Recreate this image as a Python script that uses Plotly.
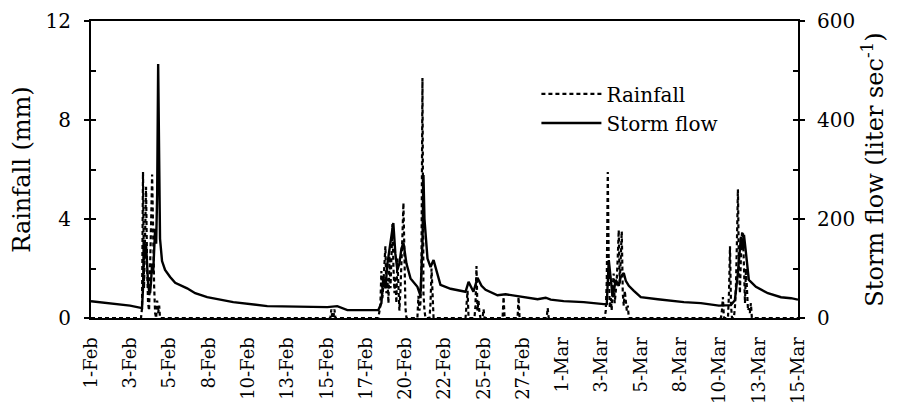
import plotly.graph_objects as go

# ---------------- data ----------------
# time axis: days since 1-Feb 00:00 (1-Feb .. 15-Mar)
tick_labels = ["1-Feb", "3-Feb", "5-Feb", "8-Feb", "10-Feb", "13-Feb", "15-Feb",
               "17-Feb", "20-Feb", "22-Feb", "25-Feb", "27-Feb", "1-Mar", "3-Mar",
               "5-Mar", "8-Mar", "10-Mar", "13-Mar", "15-Mar"]
period_days = 42

# Rainfall (mm)
rain_day = [0.00, 2.97, 3.03, 3.09, 3.15, 3.21, 3.27, 3.33, 3.39, 3.45, 3.51, 3.57, 3.63,
            3.69, 3.75, 3.81, 3.87, 3.93, 3.99, 4.05, 4.10,
            14.22, 14.28, 14.34, 14.40, 14.46, 14.52,
            17.07, 17.19, 17.25, 17.31, 17.37, 17.43, 17.49, 17.55, 17.61, 17.67, 17.73,
            17.79, 17.85, 17.91, 17.97, 18.03, 18.08, 18.14, 18.20, 18.26, 18.32, 18.38,
            18.44, 18.50, 18.56, 18.62, 18.68, 18.74,
            19.39, 19.45, 19.51, 19.57, 19.63, 19.69, 19.75, 19.81, 19.87,
            20.11, 20.17, 20.23, 20.29, 20.35,
            22.25, 22.37, 22.43, 22.78, 22.84, 22.90, 22.96, 23.02, 23.08, 23.14,
            23.26, 23.32, 23.38, 24.45, 24.51, 24.57, 25.34, 25.40, 25.46,
            27.07, 27.13, 27.19,
            30.52, 30.58, 30.64, 30.70, 30.76, 30.82, 30.88, 30.93, 30.99, 31.05, 31.11,
            31.17, 31.23, 31.29, 31.35, 31.41, 31.47, 31.53, 31.59, 31.65, 31.71, 31.77,
            31.83, 31.89, 31.95,
            37.42, 37.48, 37.54, 37.60, 37.84, 37.90, 37.96, 38.02, 38.08,
            38.19, 38.25, 38.31, 38.37, 38.43, 38.49, 38.55, 38.61, 38.67, 38.73, 38.79,
            38.85, 38.91, 38.97, 39.03, 39.08, 39.14, 39.20, 39.26, 42.00]
rain_mm = [0, 0, 0.4, 5.9, 1.2, 4.2, 5.3, 2.2, 0.6, 0.3, 1.6, 3.8, 5.8,
           2.8, 1.3, 0.2, 0.0, 0.7, 0.2, 0.5, 0,
           0, 0.35, 0, 0, 0.35, 0,
           0, 0.5, 1.9, 0.8, 1.4, 2.2, 2.9, 1.0, 1.6, 0.6, 2.5,
           1.2, 3.0, 3.8, 2.0, 1.0, 1.7, 0.6, 2.4, 0.8, 0.3, 1.1,
           2.0, 3.3, 4.65, 1.5, 0.4, 0,
           0, 0.9, 0.3, 0.6, 2.0, 9.7, 1.0, 0.3, 0,
           0, 0.6, 2.0, 0.5, 0,
           0, 1.1, 0, 0, 0.5, 2.1, 0.3, 0.7, 0.2, 0,
           0, 0.35, 0, 0, 0.85, 0, 0, 0.85, 0,
           0, 0.4, 0,
           0, 0.3, 1.5, 5.9, 2.0, 0.4, 0.8, 0.3, 1.2, 1.8, 0.6,
           1.0, 1.5, 2.4, 3.55, 1.4, 2.6, 3.5, 1.0, 0.5, 1.1, 0.6,
           0.3, 0.5, 0,
           0, 0.3, 0.85, 0, 0, 1.0, 2.9, 0.5, 0,
           0, 0.4, 1.2, 3.0, 5.2, 2.0, 1.0, 2.5, 3.4, 3.5, 1.5,
           0.6, 2.0, 0.8, 0.3, 0.4, 0.2, 0.6, 0, 0]

# Storm flow (liter/sec)
flow_day = [0.00, 1.13, 2.32, 3.03, 3.09, 3.15, 3.21, 3.27, 3.33, 3.39, 3.45, 3.51, 3.57,
            3.63, 3.69, 3.75, 3.81, 3.87, 3.93, 3.99, 4.04, 4.10, 4.22, 4.40, 4.70, 5.00,
            5.71, 6.19, 6.90, 8.45, 10.47, 13.21, 14.04, 14.63, 15.23, 17.07,
            17.25, 17.37, 17.49, 17.61, 17.73, 17.85, 17.96, 18.08, 18.20, 18.32, 18.44,
            18.56, 18.74, 18.98, 19.39, 19.57, 19.69, 19.75, 19.81, 19.99, 20.17, 20.35,
            20.52, 20.76, 21.36, 22.25, 22.43, 22.72, 22.96, 23.20, 23.44, 24.15, 24.63,
            25.34, 25.94, 26.53, 27.01, 27.31, 28.08, 29.27, 30.46, 30.64, 30.76, 30.88,
            30.99, 31.17, 31.35, 31.47, 31.65, 31.77, 31.95, 32.25, 32.66, 33.67, 35.22,
            36.23, 37.30, 38.01, 38.25, 38.43, 38.61, 38.73, 38.79, 38.91, 39.08, 39.50,
            40.21, 40.99, 41.58, 42.00]
flow_ls = [34, 30, 25, 20, 60, 158, 120, 150, 100, 70, 55, 50, 75,
           110, 90, 140, 180, 150, 250, 513, 300, 160, 115, 97, 83, 71,
           60, 50, 42, 32, 24, 22, 22, 24, 16, 16,
           30, 83, 60, 110, 140, 170, 192, 130, 97, 110, 140,
           152, 110, 80, 63, 45, 150, 289, 200, 120, 103, 117,
           95, 67, 59, 53, 73, 53, 81, 65, 57, 46, 48,
           44, 40, 38, 41, 37, 34, 32, 28, 28, 117, 70,
           42, 77, 65, 83, 91, 75, 65, 55, 42, 38, 32,
           30, 25, 26, 36, 91, 164, 140, 168, 131, 77, 63,
           50, 42, 40, 37]

rain_ticks = [0, 4, 8, 12]
flow_ticks = [0, 200, 400, 600]

# ---------------- figure ----------------
FONT = "DejaVu Serif"
SIZE = 20
fig = go.Figure()

fig.add_trace(go.Scatter(
    x=rain_day, y=rain_mm, name="Rainfall", mode="lines",
    line=dict(color="black", width=2.2, dash="4px,3px"), yaxis="y"))
fig.add_trace(go.Scatter(
    x=flow_day, y=flow_ls, name="Storm flow", mode="lines",
    line=dict(color="black", width=2.4), yaxis="y2"))
# helper traces for inside tick marks
fig.add_trace(go.Scatter(x=[0], y=[None], yaxis="y3", showlegend=False, hoverinfo="skip"))
fig.add_trace(go.Scatter(x=[0], y=[None], yaxis="y4", showlegend=False, hoverinfo="skip"))

n = len(tick_labels)
tick_pos = [i * period_days / (n - 1) for i in range(n)]

# the page body has an 8px default margin, so the figure is drawn 8px in/down
fig.update_layout(
    width=892, height=399,
    margin=dict(l=83, r=102, t=13, b=89),
    paper_bgcolor="white", plot_bgcolor="white",
    font=dict(family=FONT, size=SIZE, color="black"),
    showlegend=True,
    legend=dict(x=0.63, y=0.82, xanchor="left", yanchor="top",
                bgcolor="rgba(0,0,0,0)", itemwidth=60, tracegroupgap=0,
                font=dict(family=FONT, size=SIZE, color="black")),
    xaxis=dict(range=[0, period_days], tickvals=tick_pos, ticktext=tick_labels,
               tickangle=-90, ticks="", showgrid=False, zeroline=False,
               showline=True, linecolor="black", linewidth=2, mirror=True,
               tickfont=dict(family=FONT, size=18, color="black"),
               ticklabelstandoff=10, automargin=False),
    yaxis=dict(range=[0, 12], tickvals=rain_ticks, ticks="outside", ticklen=5,
               tickwidth=1.5, tickcolor="black", showgrid=False, zeroline=False,
               showline=True, linecolor="black", linewidth=2,
               ticklabelstandoff=9, automargin=False,
               title=dict(text="Rainfall (mm)", standoff=14)),
    yaxis3=dict(range=[0, 12], dtick=2, overlaying="y", side="left",
                ticks="inside", ticklen=5, tickwidth=1.5, tickcolor="black",
                showticklabels=False, showgrid=False, zeroline=False, showline=False,
                automargin=False),
    yaxis2=dict(range=[0, 600], tickvals=flow_ticks, overlaying="y", side="right",
                ticks="outside", ticklen=5, tickwidth=1.5, tickcolor="black",
                showgrid=False, zeroline=False, showline=True, linecolor="black",
                linewidth=2, ticklabelstandoff=8, automargin=False,
                title=dict(text="Storm flow (liter sec<sup>-1</sup>)", standoff=12)),
    yaxis4=dict(range=[0, 600], dtick=100, overlaying="y", side="right",
                ticks="inside", ticklen=5, tickwidth=1.5, tickcolor="black",
                showticklabels=False, showgrid=False, zeroline=False, showline=False,
                automargin=False),
)

fig.write_html("out.html")
